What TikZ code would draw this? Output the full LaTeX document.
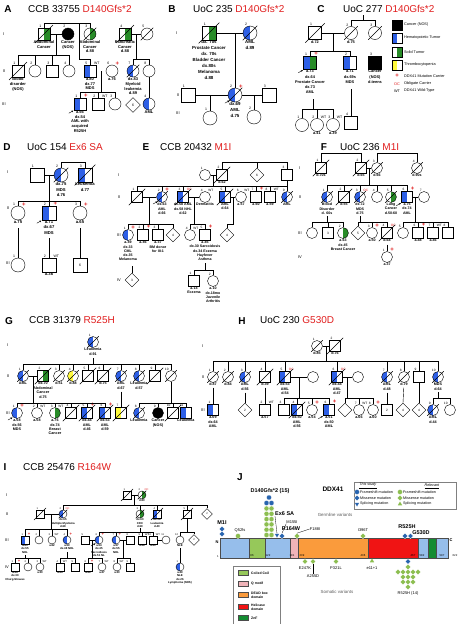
\documentclass[tikz,border=0pt]{standalone}
\usepackage{fontspec}
\setmainfont{Liberation Sans}
\usetikzlibrary{shapes.geometric,calc,arrows.meta}
\definecolor{hemblue}{RGB}{45,95,230}
\definecolor{solgreen}{RGB}{40,140,40}
\definecolor{thryel}{RGB}{255,250,60}
\definecolor{mutred}{RGB}{225,30,30}
\definecolor{barblue}{RGB}{150,190,235}
\definecolor{ccgreen}{RGB}{150,200,90}
\definecolor{qpink}{RGB}{240,180,185}
\definecolor{deadorange}{RGB}{250,155,60}
\definecolor{helred}{RGB}{240,20,20}
\definecolor{znfgreen}{RGB}{20,140,50}
\definecolor{mutgreen}{RGB}{140,190,80}
\definecolor{mutblue}{RGB}{40,100,175}
\def\sz{12pt}\def\fs{4.4}\def\bs{5.2}\def\ns{3.5}\def\ps{6}
\newcommand\sibs[5]{%
  \coordinate (sy) at (0,#1);
  \draw (#2) |- (#3.north |- sy) -- (#3.north);
  \draw (#2 |- sy) -| (#4.north);
  \foreach \k in {#5} {\draw (\k.north) -- (\k.north |- sy);}}
\tikzset{
  sym/.style={draw, inner sep=0pt, minimum size=\sz, line width=.4pt, font=\fontsize{\ns}{\ns}\selectfont},
  ml/.style={sym, rectangle},
  fm/.style={sym, circle},
  un/.style={sym, diamond, minimum size=\sz+3pt},
  hem/.style={path picture={\fill[hemblue] (path picture bounding box.south west) rectangle (path picture bounding box.north);}},
  sol/.style={path picture={\fill[solgreen] (path picture bounding box.south) rectangle (path picture bounding box.north east);}},
  thr/.style={path picture={\fill[thryel] (path picture bounding box.south west) rectangle (path picture bounding box.north);}},
  hemsol/.style={path picture={\fill[hemblue] (path picture bounding box.south west) rectangle (path picture bounding box.north);
    \fill[solgreen] (path picture bounding box.south) rectangle (path picture bounding box.north east);}},
  blk/.style={fill=black},
  lbl/.style={inner sep=.3pt, font=\fontsize{\ns}{\ns}\selectfont},
  nr/.style={label={[lbl]110:#1}},
  pl/.style={label={[lbl,text=mutred,font=\fontsize{\ps}{\ps}\selectfont\bfseries]60:+}},
  oc/.style={label={[lbl,text=mutred]60:OC}},
  wt/.style={label={[lbl]60:WT}},
  tx/.style={label={[lbl,align=center,font=\fontsize{\fs}{\bs}\selectfont\bfseries]below:#1}},
  pan/.style={inner sep=0pt, font=\fontsize{10}{12}\selectfont\bfseries},
  ttl/.style={anchor=west, inner sep=0pt, font=\fontsize{10}{12}\selectfont},
  gen/.style={inner sep=0pt, font=\fontsize{4}{4}\selectfont},
  leg/.style={draw, minimum width=10pt, minimum height=10pt, inner sep=0pt},
  legt/.style={anchor=west, inner sep=0pt, font=\fontsize{3.8}{4}\selectfont},
  lgs/.style={inner sep=0pt, font=\fontsize{3.8}{4}\selectfont},
  dom/.style={draw=gray!60!black, line width=.3pt},
  aanum/.style={inner sep=0pt, font=\fontsize{2.8}{3}\selectfont},
  fsm/.style={circle, inner sep=0pt, minimum size=5pt, draw=white, line width=.2pt},
  msm/.style={diamond, inner sep=0pt, minimum size=5.5pt, draw=white, line width=.2pt},
  spm/.style={regular polygon, regular polygon sides=3, inner sep=0pt, minimum size=5pt},
  mlab/.style={inner sep=0pt, font=\fontsize{4}{4}\selectfont},
  mbig/.style={inner sep=0pt, font=\fontsize{5.5}{6}\selectfont\bfseries},
  jtx/.style={inner sep=0pt, font=\fontsize{3.7}{4}\selectfont},
  dtx/.style={anchor=west, inner sep=0pt, align=left, font=\fontsize{3.4}{3.8}\selectfont\bfseries}
}
\begin{document}
\begin{tikzpicture}[x=1pt,y=-1pt]
\useasboundingbox[fill=white] (0,0) rectangle (458,624);

\def\sz{12pt}\def\fs{4.0}\def\bs{4.7}
\node[pan] (labA) at (8,9) {A};
\node[ttl] (ttlA) at (28,9) {CCB 33755 \textcolor{mutred}{D140Gfs*2}};
\node[gen] (gA1) at (4,34) {I};
\node[gen] (gA2) at (4,71) {II};
\node[gen] (gA3) at (4,104) {III};
\node[ml,sol,nr=1,tx={Abdominal\\Cancer}] (A11) at (44,34) {};
\node[fm,blk,nr=2,tx={Cancer\\(NOS)}] (A12) at (68,34) {};
\node[fm,sol,nr=3,tx={Abdominal\\Cancer\\d.88}] (A13) at (90,34) {};
\node[ml,sol,nr=4,tx={Pancreatic\\Cancer\\d.88}] (A14) at (125,34) {};
\node[fm,nr=5] (A15) at (147,34) {};
\node[ml,nr=1,tx={Blood\\disorder\\(NOS)}] (A21) at (18,71) {};
\node[fm,nr=2] (A22) at (35,71) {};
\node[ml,nr=3] (A23) at (52,71) {};
\node[fm,nr=4] (A24) at (69,71) {};
\node[ml,hem,nr=5,wt,tx={a.80\\dx.77\\MDS}] (A25) at (90,71) {};
\node[fm,nr=6,pl,tx={a.76}] (A26) at (112,71) {};
\node[fm,hem,nr=7,tx={dx.83\\Myeloid\\leukemia\\d.89}] (A27) at (133,71) {};
\node[fm,nr=8] (A28) at (149,71) {};
\node[ml,hem,nr=1,pl,tx={a.56\\dx.54\\AML with\\acquired\\R525H}] (A31) at (80,104) {};
\node[ml,nr=2,wt] (A32) at (98,104) {};
\node[fm,nr=3] (A33) at (115,104) {};
\node[un] (A34) at (133,105) {6};
\node[fm,hem,nr=4,tx={AML}] (A35) at (149,104) {};
\draw (A11.east) -- (A12.west);
\draw (A11.north) -- ++(0,-5) -| (A13.north);
\draw (A14.east) -- (A15.west);
\coordinate (mA1) at ($(A11)!.5!(A12)$);
\coordinate (mA2) at (79,23);
\coordinate (mA3) at ($(A14)!.5!(A15)$);
\coordinate (mA4) at ($(A25)!.5!(A26)$);
\sibs{55}{mA1}{A21}{A24}{A22,A23}
\sibs{59}{mA2}{A25}{A25}{A25}
\sibs{59}{mA3}{A27}{A28}{A27}
\sibs{92}{mA4}{A31}{A33}{A32}
\draw (A28.south) -- (A35.north);

\def\sz{14pt}\def\fs{4.4}\def\bs{6}
\node[pan] (labB) at (172,9) {B};
\node[ttl] (ttlB) at (193,9) {UoC 235 \textcolor{mutred}{D140Gfs*2}};
\node[gen] (gB1) at (177,33) {I};
\node[gen] (gB2) at (178,95) {II};
\node[gen] (gB3) at (178,113) {III};
\node[ml,sol,nr=1,tx={dx. 70s\\Prostate Cancer\\dx. 70s\\Bladder Cancer\\dx.80s\\Melanoma\\d.88}] (B11) at (209,33) {};
\node[fm,hem,nr=2,tx={AML\\d.89}] (B12) at (250,33) {};
\node[ml,nr=1] (B21) at (188,95) {};
\node[fm,hem,nr=2,pl,tx={dx.69\\AML\\d.75}] (B22) at (235,95) {};
\node[ml,nr=3] (B23) at (269,95) {};
\node[fm,nr=1] (B31) at (210,118) {};
\node[fm,nr=2] (B32) at (254,117) {};
\draw (B11.east) -- (B12.west);
\draw (B21.east) -- (B22.west);
\draw (B22.east) -- (B23.west);
\coordinate (mB1) at (235,33);
\coordinate (mB2) at (210,95);
\coordinate (mB3) at (254,95);
\draw (mB1) -- (B22.north);
\draw (mB2) -- (B31.north);
\draw (mB3) -- (B32.north);

\def\sz{13pt}\def\fs{3.9}\def\bs{5.2}
\node[pan] (labC) at (321,9) {C};
\node[ttl] (ttlC) at (343,9) {UoC 277 \textcolor{mutred}{D140Gfs*2}};
\node[ml,nr=1,tx={d.72}] (C11) at (315,33) {};
\node[fm,nr=2,tx={d.75}] (C12) at (351,33) {};
\node[fm,nr=3] (C13) at (375,33) {};
\node[ml,hemsol,nr=1,pl,tx={a.73\\dx.64\\Prostate Cancer\\dx.73\\AML}] (C21) at (310,63) {};
\node[ml,hem,nr=2,tx={a.71\\dx.69s\\MDS}] (C22) at (350,63) {};
\node[ml,blk,nr=3,tx={Cancer\\(NOS)\\d.teens}] (C23) at (375,63) {};
\node[fm,nr=1] (C31) at (302,125) {};
\node[fm,nr=2,wt,tx={a.41}] (C32) at (317,125) {};
\node[fm,nr=3,wt,tx={a.39}] (C33) at (333,125) {};
\node[ml,nr=4] (C34) at (351,123) {};
\draw (C11.east) -- (C12.west);
\draw (C12.north) -- ++(0,-6) -| (C13.north);
\coordinate (mC0) at (363,20.5);
\draw (mC0) -- ++(0,-6);
\coordinate (mC1) at ($(C11)!.5!(C12)$);
\sibs{51}{mC1}{C21}{C22}{C21}
\coordinate (dC1) at (313,99);
\sibs{109}{dC1}{C31}{C33}{C32}
\coordinate (dC2) at (351,89);
\draw (dC2) -- (C34.north);
\node[leg,blk] (K1) at (397,25) {};
\node[legt] (K1t) at (404,25) {Cancer (NOS)};
\node[leg,hem] (K2) at (397,38) {};
\node[legt] (K2t) at (404,38) {Hematopoietic Tumor};
\node[leg,sol] (K3) at (397,52) {};
\node[legt] (K3t) at (404,52) {Solid Tumor};
\node[leg,thr] (K4) at (397,65) {};
\node[legt] (K4t) at (404,65) {Thrombocytopenia};
\node[lgs,text=mutred,font=\fontsize{6}{6}\selectfont\bfseries] (K5) at (397,76) {+};
\node[legt] (K5t) at (404,76) {DDX41 Mutation Carrier};
\node[lgs,text=mutred] (K6) at (397,84) {OC};
\node[legt] (K6t) at (404,84) {Obligate Carrier};
\node[lgs] (K7) at (397,91) {WT};
\node[legt] (K7t) at (404,91) {DDX41 Wild-Type};

\def\sz{14pt}\def\fs{4.2}\def\bs{5.4}
\node[pan] (labD) at (7,147) {D};
\node[ttl] (ttlD) at (27,147) {UoC 154 \textcolor{mutred}{Ex6 SA}};
\node[gen] (gD1) at (8,172) {I};
\node[gen] (gD2) at (8,208) {II};
\node[gen] (gD3) at (8,263) {III};
\node[ml,nr=1] (D11) at (37,175) {};
\node[fm,hem,nr=2,tx={dx.75\\MDS\\d.76}] (D12) at (61,175) {};
\node[ml,hem,nr=3,tx={Leukemia\\d.77}] (D13) at (85,175) {};
\node[fm,nr=1,pl,tx={a.75}] (D21) at (18,213) {};
\node[ml,hem,nr=2,pl,tx={a.71\\dx.67\\MDS}] (D22) at (49,213) {};
\node[fm,nr=3,pl,tx={a.65}] (D23) at (80,213) {};
\node[fm,nr=1] (D31) at (18,265) {};
\node[ml,nr=2,wt,tx={a.36}] (D32) at (49,265) {};
\node[ml] (D33) at (80,265) {6};
\draw (D11.east) -- (D12.west);
\draw (D12.north) -- ++(0,-6) -| (D13.north);
\coordinate (mD1) at ($(D11)!.5!(D12)$);
\sibs{201}{mD1}{D21}{D23}{D22}
\draw[shorten <=8pt] (D21.south) -- (D31.north);
\draw[shorten <=18pt] (D22.south) -- (D32.north);
\draw[shorten <=8pt] (D23.south) -- (D33.north);

\def\sz{11pt}\def\fs{3.6}\def\bs{4.3}\def\ns{3.2}
\node[pan] (labE) at (146,147) {E};
\node[ttl] (ttlE) at (160,147) {CCB 20432 \textcolor{mutred}{M1I}};
\node[gen] (gE1) at (119,175) {I};
\node[gen] (gE2) at (119,197) {II};
\node[gen] (gE3) at (119,235) {III};
\node[gen] (gE4) at (119,280) {IV};
\node[fm,nr=1] (E11) at (205,175) {};
\node[ml,nr=2,tx={d.62}] (E12) at (222,175) {};
\node[un] (E13) at (257,175) {6};
\node[ml,nr=3] (E14) at (287,175) {};
\node[ml,nr=1] (E21) at (137,197) {};
\node[fm,hem,nr=2,pl,tx={dx.63\\AML\\d.66}] (E22) at (162,197) {};
\node[ml,hem,nr=3,oc,tx={dx.58 AML\\dx.58 NHL\\d.62}] (E23) at (183,197) {};
\node[fm,nr=4,wt,tx={Dermatitis}] (E24) at (205,197) {};
\node[ml,hem,nr=5,tx={AML\\d.64}] (E25) at (225,197) {};
\node[fm,nr=6,wt,tx={a.57}] (E26) at (241,197) {};
\node[ml,nr=7,pl,tx={a.60}] (E27) at (256,197) {};
\node[ml,nr=8,wt,tx={a.59}] (E28) at (270,197) {};
\node[fm,hem,nr=9,tx={AML}] (E29) at (287,197) {};
\node[fm,hem,nr=1,pl,tx={a.49\\dx.33\\CML\\dx.35\\Melanoma}] (E31) at (128,235) {};
\node[ml,nr=2,pl,tx={a.46}] (E32) at (143,235) {};
\node[ml,nr=3,tx={a.37\\BM donor\\for III-1}] (E33) at (158,235) {};
\node[un] (E34) at (173,235) {4};
\node[fm,nr=4,wt] (E35) at (190,235) {};
\node[ml,nr=5,pl,tx={a.45\\dx.30 Sarcoidosis\\dx.34 Eczema\\Hayfever\\Asthma}] (E36) at (205,235) {};
\node[un] (E37) at (227,235) {4};
\node[ml,nr=1,tx={a.14\\Eczema}] (E41) at (194,281) {};
\node[fm,nr=2,tx={a.10\\dx.18mo\\Juvenile\\Arthritis}] (E42) at (213,281) {};
\node[un] (E43) at (132,280) {3};
\draw (E11.east) -- (E12.west);
\draw (E12.north) -- ++(0,-7.5) -| (E14.north);
\coordinate (tE) at (257,162);
\draw (E13.north) -- (tE);
\coordinate (mE1) at ($(E11)!.5!(E12)$);
\sibs{186}{mE1}{E21}{E29}{E22,E23,E25,E27,E28}
\draw (E14.south) -- (E29.north);
\draw (E21.east) -- (E22.west);
\draw (E23.east) -- (E24.west);
\draw (E25.east) -- (E26.west);
\coordinate (mE2) at ($(E21)!.5!(E22)$);
\coordinate (mE3) at ($(E23)!.5!(E24)$);
\coordinate (mE4) at ($(E25)!.5!(E26)$);
\sibs{224}{mE2}{E31}{E34}{E32,E33}
\sibs{224}{mE3}{E35}{E36}{E35}
\sibs{224}{mE4}{E37}{E37}{E37}
\coordinate (dE1) at (205,263);
\sibs{270}{dE1}{E41}{E42}{E41}
\coordinate (dE2) at (132,266);
\draw (dE2) -- (E43.north);

\node[pan] (labF) at (324,147) {F};
\node[ttl] (ttlF) at (340,147) {UoC 236 \textcolor{mutred}{M1I}};
\node[gen] (gF1) at (300,168) {I};
\node[gen] (gF2) at (300,197) {II};
\node[gen] (gF3) at (300,233) {III};
\node[gen] (gF4) at (300,257) {IV};
\node[ml,nr=1,tx={d.70s}] (F11) at (321,168) {};
\node[ml,nr=2,tx={d.65}] (F12) at (361,168) {};
\node[fm,nr=3,tx={d.66}] (F13) at (377,168) {};
\node[fm,nr=4,tx={d.90s}] (F14) at (417,168) {};
\node[fm,hem,nr=1,tx={Blood\\Disorder\\d. 60s}] (F21) at (327,197) {};
\node[ml,nr=2,tx={d.55}] (F22) at (344,197) {};
\node[fm,hem,nr=3,oc,tx={dx.72\\MDS\\d.75}] (F23) at (360,197) {};
\node[fm,nr=4] (F24) at (377,197) {};
\node[fm,sol,nr=5,tx={Lung\\Cancer\\d.50-60}] (F25) at (391,197) {};
\node[ml,hem,nr=6,pl,tx={a.75\\dx.74\\AML}] (F26) at (407,197) {};
\node[fm,nr=7] (F27) at (424,197) {};
\node[fm] (F31) at (312,233) {};
\node[ml] (F32) at (328,233) {3};
\node[fm,sol,nr=2,tx={a.63\\dx.45\\Breast Cancer}] (F33) at (343,233) {};
\node[un] (F34) at (358,233) {5};
\node[fm,nr=3,pl,tx={a.50}] (F35) at (372,233) {};
\node[ml,nr=4,oc,tx={d.64}] (F36) at (387,233) {};
\node[fm,nr=5] (F37) at (403,233) {};
\node[ml,nr=6,pl,tx={a.48}] (F38) at (418,233) {};
\node[ml,nr=7,wt,tx={a.46}] (F39) at (433,233) {};
\node[ml,nr=8] (F3a) at (448,233) {};
\node[fm,nr=1,pl,tx={a.37}] (F41) at (387,257) {};
\draw (F11.north) -- ++(0,-9) -| (F12.north);
\draw (F13.north) -- ++(0,-9) -| (F14.north);
\draw (F12.east) -- (F13.west);
\coordinate (mF1) at ($(F12)!.5!(F13)$);
\sibs{185}{mF1}{F21}{F26}{F22,F23,F24,F25}
\draw (F26.east) -- (F27.west);
\coordinate (dF1) at (327,216);
\coordinate (dF2) at (360,216);
\coordinate (mF2) at ($(F26)!.5!(F27)$);
\sibs{222}{dF1}{F31}{F33}{F32}
\sibs{222}{dF2}{F34}{F36}{F35}
\sibs{222}{mF2}{F37}{F3a}{F38,F39}
\draw[shorten <=6pt] (F36.south) -- (F41.north);

\def\sz{11pt}\def\fs{3.7}\def\bs{4.4}
\node[pan] (labG) at (9,321) {G};
\node[ttl] (ttlG) at (29,320) {CCB 31379 \textcolor{mutred}{R525H}};
\node[gen] (gG1) at (8,345) {I};
\node[gen] (gG2) at (8,376) {II};
\node[gen] (gG3) at (8,413) {III};
\node[fm,hem,nr=1,tx={Leukemia\\d.91}] (G11) at (93,342) {};
\node[fm,hem,nr=1,tx={AML}] (G21) at (23,376) {};
\node[ml,sol,nr=2,tx={dx.70\\Abdominal\\Cancer\\d.75}] (G22) at (43,376) {};
\node[fm,nr=3,tx={d.51}] (G23) at (59,376) {};
\node[fm,thr,nr=4,tx={d.88}] (G24) at (73,376) {};
\node[ml,nr=5] (G25) at (88,376) {};
\node[ml,nr=6,tx={d.75}] (G26) at (103,376) {};
\node[fm,hem,nr=7,tx={AML\\d.67}] (G27) at (121,376) {};
\node[fm,hem,nr=8,tx={Leukemia\\d.57}] (G28) at (139,376) {};
\node[ml,nr=9] (G29) at (155,376) {};
\node[fm,nr=10] (G2a) at (171,376) {};
\node[fm,hem,nr=1,pl,tx={a.58\\dx.56\\MDS}] (G31) at (17,413) {};
\node[fm,nr=2,wt,tx={a.58}] (G32) at (37,413) {};
\node[fm,sol,nr=3,wt,tx={a.76\\dx.74\\Breast\\Cancer}] (G33) at (55,413) {};
\node[ml,nr=4] (G34) at (71,413) {};
\node[ml,hem,nr=5,pl,tx={dx.44\\AML\\d.46}] (G35) at (87,413) {};
\node[ml,hem,nr=6,pl,tx={dx.53\\AML\\d.59}] (G36) at (105,413) {};
\node[ml,thr,nr=7] (G37) at (121,413) {};
\node[fm,hem,nr=8,tx={Leukemia}] (G38) at (139,413) {};
\node[fm,blk,nr=9,tx={Cancer\\(NOS)}] (G39) at (158,413) {};
\node[ml,nr=10] (G3a) at (173,413) {};
\node[ml,hem,nr=11,tx={Leukemia}] (G3b) at (186,413) {};
\coordinate (dG1) at (93,358);
\sibs{364}{dG1}{G21}{G2a}{G23,G24,G25,G26,G27,G28,G29}
\draw (G21.east) -- (G22.west);
\coordinate (mG1) at ($(G21)!.5!(G22)$);
\sibs{403}{mG1}{G31}{G36}{G32,G33,G34,G35}
\draw[shorten <=10pt] (G27.south) -- (G37.north);
\sibs{403}{G2a.south}{G38}{G3b}{G39,G3a}

\node[pan] (labH) at (242,321) {H};
\node[ttl] (ttlH) at (260,320) {UoC 230 \textcolor{mutred}{G530D}};
\node[gen] (gH1) at (203,346) {I};
\node[gen] (gH2) at (203,377) {II};
\node[gen] (gH3) at (203,410) {III};
\node[fm,nr=1,tx={d.85}] (H11) at (317,346) {};
\node[ml,nr=2,tx={d.76}] (H12) at (335,346) {};
\node[fm,nr=1,tx={d.87}] (H21) at (213,377) {};
\node[fm,nr=2,tx={d.84}] (H22) at (228,377) {};
\node[fm,hem,nr=3,tx={AML\\d.56}] (H23) at (245,377) {};
\node[ml,nr=4,tx={d.39}] (H24) at (265,377) {};
\node[ml,hem,nr=5,oc,tx={dx.53\\AML\\d.54}] (H25) at (285,377) {};
\node[fm] (H25s) at (313,377) {};
\node[ml,hem,nr=6,oc,tx={dx.44\\AML\\d.47}] (H26) at (337,377) {};
\node[fm] (H26s) at (358,377) {};
\node[fm,hem,nr=7,tx={AML\\d.48}] (H27) at (387,377) {};
\node[fm,nr=8,tx={d.79}] (H28) at (404,377) {};
\node[ml,nr=9] (H29) at (419,377) {};
\node[fm,hem,nr=10,tx={MDS\\d.64}] (H2a) at (438,377) {};
\node[ml,hem,nr=1,tx={a.69\\dx.64\\AML}] (H31) at (213,410) {};
\node[un] (H32) at (245,410) {2};
\node[ml,nr=2,wt,tx={a.57}] (H33) at (265,410) {};
\node[ml,nr=3] (H34) at (284,410) {};
\node[ml,hem,nr=4,tx={dx.50\\AML\\d.56}] (H35) at (297,410) {};
\node[fm,nr=5,pl,tx={a.54}] (H36) at (312,410) {};
\node[ml,hem,nr=6,pl,tx={a.51\\dx.50\\AML}] (H37) at (329,410) {};
\node[un] (H38) at (345,410) {};
\node[fm,nr=7,wt,tx={a.66}] (H39) at (359,410) {};
\node[fm,nr=8,pl,tx={a.60}] (H3a) at (373,410) {};
\node[ml] (H3b) at (387,410) {2};
\node[un] (H3c) at (403,410) {4};
\node[un] (H3d) at (419,410) {4};
\node[fm,hem,nr=9,tx={AML\\d.44}] (H3e) at (433,410) {};
\node[fm,nr=10] (H3f) at (450,410) {};
\draw (H11.east) -- (H12.west);
\coordinate (mH1) at ($(H11)!.5!(H12)$);
\sibs{361}{mH1}{H21}{H2a}{H22,H23,H24,H25,H26,H27,H28,H29}
\draw (H25.east) -- (H25s.west);
\draw (H26.east) -- (H26s.west);
\draw[shorten <=5pt] (H21.south) -- (H31.north);
\draw[shorten <=10pt] (H23.south) -- (H32.north);
\draw[shorten <=5pt] (H24.south) -- (H33.north);
\coordinate (mH2) at ($(H25)!.5!(H25s)$);
\coordinate (mH3) at ($(H26)!.5!(H26s)$);
\sibs{398}{mH2}{H34}{H37}{H35,H36}
\sibs{398}{mH3}{H38}{H3a}{H39}
\draw[shorten <=10pt] (H27.south) -- (H3b.north);
\draw[shorten <=5pt] (H28.south) -- (H3c.north);
\draw (H29.south) -- (H3d.north);
\coordinate (dH1) at (438,392);
\sibs{398}{dH1}{H3e}{H3f}{H3e}

\def\sz{8pt}\def\fs{2.8}\def\bs{3.3}\def\ns{2.6}\def\ps{4.2}
\node[pan] (labI) at (5,467) {I};
\node[ttl] (ttlI) at (23,467) {CCB 25476 \textcolor{mutred}{R164W}};
\node[gen] (gI1) at (7,495) {I};
\node[gen] (gI2) at (7,514) {II};
\node[gen] (gI3) at (7,540) {III};
\node[gen] (gI4) at (7,567) {IV};
\node[ml,nr=1] (I11) at (127,495) {};
\node[fm,sol,nr=2,oc,tx={d.80}] (I12) at (142,495) {};
\node[ml,nr=1] (I21) at (40,514) {};
\node[fm,hem,nr=2,oc,tx={dx.65\\Multiple Myeloma\\d.68}] (I22) at (63,514) {};
\node[fm,sol,nr=3,tx={dx.60\\CRC\\d.69}] (I23) at (140,514) {};
\node[ml,hem,nr=4,tx={dx.38\\Leukemia\\d.40}] (I24) at (157,514) {};
\node[ml,nr=5] (I25) at (187,514) {};
\node[un] (I26) at (207,514) {2};
\node[ml,hem,nr=1,pl,tx={a.65\\dx.55\\NHL}] (I31) at (25,540) {};
\node[fm,nr=2] (I32) at (39,540) {};
\node[fm,nr=3,wt,tx={a.62}] (I33) at (52,540) {};
\node[fm,hem,nr=4,pl,tx={a.59\\dx.48 NHL}] (I34) at (67,540) {};
\node[ml,nr=5] (I35) at (85,540) {};
\node[fm,hem,nr=6,pl,tx={a.54\\dx.45\\Sarcoidosis\\dx.51 NL}] (I36) at (99,540) {};
\node[fm,hem,nr=7,pl,tx={a.57\\dx.55\\NHL}] (I37) at (116,540) {};
\node[ml,nr=8] (I38) at (130,540) {};
\node[ml,nr=9,wt,tx={a.56}] (I39) at (142,540) {};
\node[ml,nr=10,wt,tx={a.53}] (I3a) at (153,540) {};
\node[fm,nr=11] (I3b) at (166,540) {};
\node[fm,nr=12,tx={NLE}] (I3c) at (180,540) {};
\node[un] (I3d) at (194,540) {2};
\node[ml,nr=1,pl,tx={a.34\\dx.30\\Churg-Strauss}] (I41) at (15,567) {};
\node[fm,nr=2] (I42) at (28,567) {};
\node[fm,nr=3,wt,tx={a.30}] (I43) at (40,567) {};
\node[ml,nr=4,wt,tx={a.24}] (I44) at (60,567) {};
\node[ml,nr=5] (I45) at (75,567) {};
\node[ml,nr=6,pl,tx={a.29}] (I46) at (88,567) {};
\node[fm,nr=7,wt,tx={a.27}] (I47) at (102,567) {};
\node[fm,nr=8,wt,tx={a.30}] (I48) at (117,567) {};
\node[ml,nr=9] (I49) at (130,567) {};
\node[fm,hem,nr=1,tx={a.29\\NLE\\dx.26\\Lymphoma (NOS)}] (I4a) at (180,567) {};
\draw (I11.east) -- (I12.west);
\coordinate (mI1) at ($(I11)!.5!(I12)$);
\sibs{505}{mI1}{I22}{I26}{I23,I24,I25}
\draw (I21.east) -- (I22.west);
\coordinate (mI2) at ($(I21)!.5!(I22)$);
\sibs{529}{mI2}{I31}{I34}{I32,I33}
\coordinate (dI1) at (140,528);
\sibs{532}{dI1}{I36}{I3a}{I37,I39}
\sibs{532}{I25.south}{I3c}{I3d}{I3c}
\draw (I35.east) -- (I36.west);
\draw (I37.east) -- (I38.west);
\draw (I3a.east) -- (I3b.west);
\coordinate (dI3) at (25,555);
\coordinate (dI4) at (67,552);
\coordinate (mI3) at ($(I35)!.5!(I36)$);
\coordinate (mI4) at ($(I37)!.5!(I38)$);
\sibs{558}{dI3}{I41}{I43}{I42}
\sibs{558}{dI4}{I44}{I45}{I44}
\sibs{558}{mI3}{I46}{I47}{I46}
\sibs{558}{mI4}{I48}{I49}{I48}
\coordinate (dI5) at (180,548);
\draw (dI5) -- (I4a.north);

\foreach \n in {A11,A13,A14,A15,A21,A27,B11,B12,B22,C11,C12,C13,D12,D13,
  E12,E21,E22,E23,E25,E29,F11,F12,F13,F14,F21,F22,F23,F25,F36,
  G11,G21,G22,G23,G24,G25,G26,G27,G28,G29,G2a,G34,G35,G36,G37,G38,G3a,
  H11,H12,H21,H22,H23,H24,H25,H26,H27,H28,H2a,H35,H3e,I11,I12,I21,I22,I23,I24,I25}
  \draw[line width=.4pt] ($(\n.south west)!-.22!(\n.north east)$) -- ($(\n.north east)!-.22!(\n.south west)$);
\foreach \n in {A31,B22,C21,D22,E22,F26,G31,H37,I36}
  \draw[-{Stealth[length=2pt,width=1.8pt]},line width=.4pt] ($(\n.south west)+(-5pt,-3pt)$) -- ($(\n.south west)+(-.5pt,-.5pt)$);

\node[pan] (labJ) at (240,477) {J};
\node[inner sep=0pt,font=\fontsize{6.5}{7}\selectfont\bfseries] (ddx) at (333,489) {DDX41};
\draw[dom,fill=barblue] (220,538) rectangle (448,558);
\draw[dom,fill=ccgreen] (249,538) rectangle (265,558);
\draw[dom,fill=qpink] (290,538) rectangle (298,558);
\draw[dom,fill=deadorange] (298,538) rectangle (368,558);
\draw[dom,fill=helred] (368,538) rectangle (418,558);
\draw[dom,fill=znfgreen] (428,538) rectangle (436,558);
\foreach \p/\v in {252/86,268/122,292/181,302/209,363/406,413/467,422/582,442/597}
  \node[aanum] (aa\v) at (\p,556) {\v};
\node[aanum,font=\fontsize{4}{4}\selectfont\bfseries] (nN) at (217,542) {N};
\node[aanum] (n1) at (218,557) {1};
\node[aanum,font=\fontsize{4}{4}\selectfont\bfseries] (nC) at (451,540) {C};
\node[aanum] (n622) at (455,556) {622};

\node[mbig] (lM1I) at (222,523) {M1I};
\node[msm,fill=mutblue] (mM1a) at (222,529) {};
\node[msm,fill=mutblue] (mM1b) at (222,534) {};
\node[mlab] (lQ52) at (240,530.5) {Q52fs};
\node[fsm,fill=mutgreen] (mQ52) at (238,536) {};
\node[mbig] (lD140) at (270,491) {D140Gfs*2 (15)};
\node[fsm,fill=mutblue] (Db1) at (269,497.5) {};
\node[fsm,fill=mutblue] (Db2) at (266.5,503) {};
\node[fsm,fill=mutblue] (Db3) at (271.5,503) {};
\foreach \r in {0,...,5} \foreach \c in {0,1}
  \node[fsm,fill=mutgreen] (Dg\r\c) at (266.5+5*\c,508.5+5.3*\r) {};
\node[mbig,anchor=west] (lEx6) at (275,514) {Ex6 SA};
\node[spm,fill=mutblue,shape border rotate=180] (mEx6) at (277,535) {};
\draw[line width=.3pt] (lEx6.south west) -- (mEx6.north);
\node[mlab] (lM155) at (292,522) {M155I};
\node[mbig] (lR164) at (291,529) {R164W};
\node[msm,fill=mutblue] (mR164) at (282,536) {};
\draw[line width=.3pt] (lM155.south west) -- (mR164.north);
\node[mlab] (lF188) at (315,529) {F188I};
\node[msm,fill=mutgreen] (mF188) at (297,536) {};
\draw[line width=.3pt] (lF188.west) -- (mF188.north);
\node[mlab] (lI396) at (363,530) {I396T};
\node[msm,fill=mutgreen] (mI396) at (363,536) {};
\node[mbig] (lR525) at (407,527) {R525H};
\node[msm,fill=mutblue] (mR525a) at (405,536) {};
\node[msm,fill=mutblue] (mR525b) at (410.5,536) {};
\node[mbig] (lG530) at (421,533) {G530D};
\node[mlab,text=gray!70!black,font=\fontsize{4.4}{5}\selectfont] (lgerm) at (335,515) {Germline variants};

\node[msm,fill=mutgreen] (mE247) at (305,561.5) {};
\node[mlab] (lE247) at (305,568) {E247K};
\node[msm,fill=mutgreen] (mA255) at (313,561.5) {};
\node[mlab] (lA255) at (313,576) {A255D};
\draw[line width=.3pt] (mA255.south) -- (lA255.north);
\node[msm,fill=mutgreen] (mP321) at (336,561.5) {};
\node[mlab] (lP321) at (336,568) {P321L};
\node[spm,fill=mutgreen] (me11) at (372,561) {};
\node[mlab] (le11) at (372,568) {e11+1};
\node[msm,fill=mutblue] (mS525) at (408,561.5) {};
\foreach \sx/\sy [count=\i] in {408/567,398/572,403/572,408/572,413/572,418/572,403/577,408/577,413/577,403/582,408/582,413/582,408/587}
  \node[msm,fill=mutgreen] (Sg\i) at (\sx,\sy) {};
\node[mlab] (lS525) at (408,593) {R525H (14)};
\node[mlab,text=gray!70!black,font=\fontsize{4.4}{5}\selectfont] (lsom) at (337,592) {Somatic variants};

\draw[gray,line width=.4pt] (354,482) rectangle (456,509);
\node[jtx] (hThis) at (368,486) {\underline{\textit{This study}}};
\node[jtx] (hRel) at (432,486) {\underline{\textit{Relevant}}};
\node[fsm,fill=mutblue] (k1a) at (357,492) {};
\node[jtx,anchor=west] (k1t) at (360,492) {Frameshift mutation};
\node[msm,fill=mutblue] (k2a) at (357,498) {};
\node[jtx,anchor=west] (k2t) at (360,498) {Missense mutation};
\node[spm,fill=mutblue,shape border rotate=180] (k3a) at (357,504) {};
\node[jtx,anchor=west] (k3t) at (360,504) {Splicing mutation};
\node[fsm,fill=mutgreen] (k1b) at (400,492) {};
\node[jtx,anchor=west] (k1u) at (403,492) {Frameshift mutation};
\node[msm,fill=mutgreen] (k2b) at (400,498) {};
\node[jtx,anchor=west] (k2u) at (403,498) {Missense mutation};
\node[spm,fill=mutgreen] (k3b) at (400,504) {};
\node[jtx,anchor=west] (k3u) at (403,504) {Splicing mutation};

\draw[gray,line width=.4pt] (233,566) rectangle (280,624);
\draw[dom,fill=ccgreen] (238,570.5) rectangle (248,575.5);
\node[dtx] (d1) at (251,573) {Coiled Coil};
\draw[dom,fill=qpink] (238,581.5) rectangle (248,586.5);
\node[dtx] (d2) at (251,584) {Q motif};
\draw[dom,fill=deadorange] (238,592.5) rectangle (248,597.5);
\node[dtx] (d3) at (251,595) {DEAD box\\domain};
\draw[dom,fill=helred] (238,604.5) rectangle (248,609.5);
\node[dtx] (d4) at (251,607) {Helicase\\domain};
\draw[dom,fill=znfgreen] (238,615.5) rectangle (248,620.5);
\node[dtx] (d5) at (251,618) {ZnF};
\end{tikzpicture}
\end{document}
